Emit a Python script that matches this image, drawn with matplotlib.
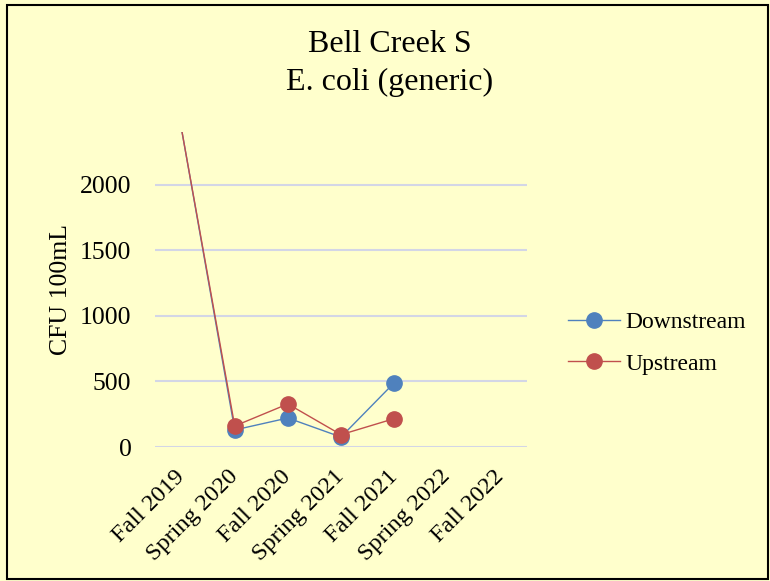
import matplotlib
matplotlib.use("Agg")
import matplotlib.pyplot as plt
from matplotlib.patches import Rectangle

categories = ["Fall 2019", "Spring 2020", "Fall 2020", "Spring 2021",
              "Fall 2021", "Spring 2022", "Fall 2022"]
downstream = [2420, 130, 221, 76, 489, None, None]
upstream = [2420, 160, 328, 94, 216, None, None]
yticks = [0, 500, 1000, 1500, 2000]
YMAX = 2400

BG = "#FFFFCC"
FONT = ["Liberation Serif", "DejaVu Serif"]
plt.rcParams["font.family"] = FONT

fig = plt.figure(figsize=(7.7, 5.81), dpi=100, facecolor=BG)
ax = fig.add_axes([155/770, 1-447/581, (527-155)/770, (447-132)/581])
ax.set_facecolor(BG)

x = list(range(len(categories)))
def clean(vals):
    return [float("nan") if v is None else v for v in vals]
def visible(vals):
    return [i for i, v in enumerate(vals) if v is not None and v <= YMAX]

ax.plot(x, clean(downstream), color="#4F81BD", lw=1.0, marker="o",
        markersize=11, markevery=visible(downstream), label="Downstream", zorder=3)
ax.plot(x, clean(upstream), color="#C0504D", lw=1.0, marker="o",
        markersize=11, markevery=visible(upstream), label="Upstream", zorder=4)

ax.set_xlim(-0.5, len(categories) - 0.5)
ax.set_ylim(0, YMAX)
ax.set_yticks(yticks)
ax.set_yticklabels([str(v) for v in yticks], fontsize=18.5)
ax.set_xticks(x)
ax.set_xticklabels(categories, fontsize=17.5, rotation=45, ha="right",
                   va="center", rotation_mode="anchor")
ax.tick_params(axis="both", length=0)
ax.tick_params(axis="y", pad=17)
ax.tick_params(axis="x", pad=19)
for s in ax.spines.values():
    s.set_visible(False)
ax.grid(axis="y", color="#D3D6E6", lw=1.5)
ax.set_axisbelow(True)
ax.set_ylabel("CFU 100mL", fontsize=18.5, labelpad=6)

fig.text(390/770, 1-45/581, "Bell Creek S", ha="center", va="center", fontsize=23)
fig.text(390/770, 1-82/581, "E. coli (generic)", ha="center", va="center", fontsize=23)

leg = fig.legend(loc="center left", bbox_to_anchor=(568/770, 1-343/581),
                 frameon=False, fontsize=17, handlelength=2.2,
                 labelspacing=0.85, handletextpad=0.25, borderpad=0,
                 borderaxespad=0)

fig.patches.append(Rectangle((7/770, 2/581), 761/770, 574/581, transform=fig.transFigure,
                             fill=False, edgecolor="black", lw=1.5))

fig.savefig("out.png", dpi=100, facecolor=BG)
